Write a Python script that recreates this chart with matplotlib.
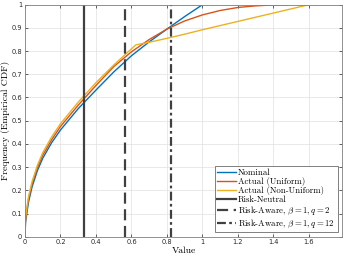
import matplotlib
matplotlib.use("Agg")
import matplotlib.pyplot as plt
from matplotlib.ticker import FormatStrFormatter

# ---- data ----
x_nominal = [0, 0.003, 0.01, 0.02, 0.04, 0.07, 0.1, 0.15, 0.2, 0.3, 0.4, 0.5, 0.6, 0.7, 0.8, 0.9, 1.0]
y_nominal = [0, 0.06, 0.10, 0.15, 0.215, 0.285, 0.338, 0.405, 0.46, 0.552, 0.632, 0.71, 0.78, 0.84, 0.895, 0.949, 1.0]

x_uniform = [0, 0.003, 0.01, 0.02, 0.04, 0.07, 0.1, 0.15, 0.2, 0.3, 0.4, 0.5, 0.6, 0.7, 0.8, 0.9, 1.0,
             1.1, 1.2, 1.3, 1.4, 1.48]
y_uniform = [0, 0.072, 0.113, 0.163, 0.228, 0.298, 0.351, 0.418, 0.475, 0.567, 0.652, 0.733, 0.797, 0.85, 0.895,
             0.93, 0.956, 0.975, 0.988, 0.995, 0.999, 1.0]

x_nonuniform = [0, 0.003, 0.01, 0.02, 0.04, 0.07, 0.1, 0.15, 0.2, 0.3, 0.4, 0.5, 0.6, 0.625, 0.7, 0.8,
                0.9, 1.0, 1.1, 1.2, 1.3, 1.4, 1.5, 1.6]
y_nonuniform = [0, 0.082, 0.123, 0.173, 0.238, 0.308, 0.362, 0.43, 0.487, 0.58, 0.664, 0.74, 0.81, 0.827,
                0.838, 0.855, 0.873, 0.892, 0.91, 0.928, 0.946, 0.964, 0.982, 1.0]

risk_neutral = 0.332
risk_aware_q2 = 0.563
risk_aware_q12 = 0.823

x_ticks = [0, 0.2, 0.4, 0.6, 0.8, 1.0, 1.2, 1.4, 1.6]
y_ticks = [0, 0.1, 0.2, 0.3, 0.4, 0.5, 0.6, 0.7, 0.8, 0.9, 1.0]

# ---- styling ----
plt.rcParams['mathtext.fontset'] = 'cm'
serif = ['cmr10', 'DejaVu Serif']

blue = (0, 0.447, 0.741)
orange = (0.85, 0.325, 0.098)
yellow = (0.929, 0.694, 0.125)
dark = (0.25, 0.25, 0.25)

fig = plt.figure(figsize=(3.47, 2.60), dpi=100)
ax = fig.add_axes([0.072, 0.0896, 0.9136, 0.8924])

ax.plot(x_nominal, y_nominal, color=blue, lw=1.0, label='Nominal')
ax.plot(x_uniform, y_uniform, color=orange, lw=1.0, label='Actual (Uniform)')
ax.plot(x_nonuniform, y_nonuniform, color=yellow, lw=1.0, label='Actual (Non-Uniform)')
ax.axvline(risk_neutral, color=dark, lw=1.6, ls='-', label='Risk-Neutral')
ax.axvline(risk_aware_q2, color=dark, lw=1.6, ls=(0, (5, 2.5)),
           label=r'Risk-Aware, $\beta=1, q=2$')
ax.axvline(risk_aware_q12, color=dark, lw=1.6, ls=(0, (4, 1.5, 1.2, 1.5)),
           label=r'Risk-Aware, $\beta=1, q=12$')

ax.set_xlim(0, 1.786)
ax.set_ylim(0, 1.0)
ax.set_xticks(x_ticks)
ax.set_yticks(y_ticks)
ax.xaxis.set_major_formatter(FormatStrFormatter('%g'))
ax.yaxis.set_major_formatter(FormatStrFormatter('%g'))
ax.tick_params(direction='in', length=2.5, width=0.5, labelsize=4.8, colors=(0.15, 0.15, 0.15),
               top=True, right=True, pad=2)
for s in ax.spines.values():
    s.set_color((0.5, 0.5, 0.5))
    s.set_linewidth(0.6)
ax.grid(True, color=(0.88, 0.88, 0.88), lw=0.5)
ax.set_axisbelow(True)

ax.set_xlabel('Value', family=serif, fontsize=7, labelpad=1)
ax.set_ylabel('Frequency (Empirical CDF)', family=serif, fontsize=7, labelpad=1)

leg = ax.legend(loc='lower right', prop={'family': serif, 'size': 6.3}, frameon=True,
                fancybox=False, edgecolor=(0.3, 0.3, 0.3), framealpha=1,
                handlelength=2.2, handletextpad=0.2, labelspacing=0.05,
                borderpad=0.3, borderaxespad=0.5)
leg.get_frame().set_linewidth(0.5)

fig.savefig('out.png', dpi=100)
